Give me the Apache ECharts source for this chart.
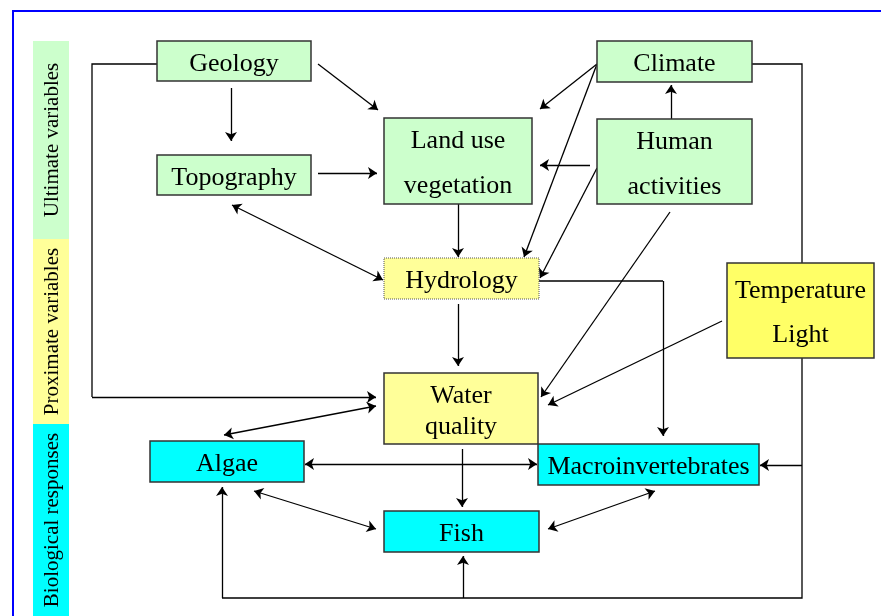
<!DOCTYPE html>
<html>
<head>
<meta charset="utf-8">
<script src="https://cdn.jsdelivr.net/npm/echarts@6/dist/echarts.min.js"></script>
<style>
  html, body { margin: 0; padding: 0; background: #fff; }
  #main { width: 881px; height: 616px; }
</style>
</head>
<body>
<div id="main"></div>
<script>
// diagram data: boxes (label, corners in diagram units, level)
const boxLabels = ['Geology', 'Topography', 'Land use\nvegetation', 'Climate', 'Human\nactivities',
  'Hydrology', 'Temperature\nLight', 'Water\nquality', 'Algae', 'Macroinvertebrates', 'Fish'];
const boxLevels = ['ultimate', 'ultimate', 'ultimate', 'ultimate', 'ultimate',
  'proximate', 'proximateStrong', 'proximate', 'biological', 'biological', 'biological'];
const boxCorners = [
  [157, 41, 311, 81], [157, 155, 311, 195], [384, 118, 532, 204], [597, 41, 752, 82],
  [597, 119, 752, 204], [384, 258, 539, 299], [727, 263, 874, 358], [384, 373, 538, 444],
  [150, 441, 304, 482], [538, 444, 759, 485], [384, 511, 539, 552]
];

// side bands
const bandLabels = ['Ultimate variables', 'Proximate variables', 'Biological responses'];
const bandLevels = ['ultimate', 'proximate', 'biological'];
const bandSpans = [[41, 239], [239, 424], [424, 616]];

// connectors
const arrowLinks = [
  [[231, 88], [231, 141]],
  [[318, 64], [378, 110]],
  [[318, 173], [377, 173]],
  [[458, 204], [458, 257]],
  [[597, 64], [540, 109]],
  [[597, 64], [524, 257]],
  [[590, 165], [540, 165]],
  [[597, 168], [540, 278]],
  [[671, 119], [671, 85]],
  [[663, 281], [663, 436]],
  [[670, 212], [541, 397]],
  [[722, 321], [548, 405]],
  [[458, 304], [458, 366]],
  [[92, 397], [376, 397]],
  [[462, 449], [462, 507]],
  [[802, 465], [760, 465]],
  [[463, 598], [463, 556]],
  [[222, 598], [222, 487]]
];
const doubleLinks = [
  [[232, 205], [383, 280]],
  [[376, 406], [224, 435]],
  [[305, 464], [537, 464]],
  [[254, 491], [376, 529]],
  [[548, 529], [655, 491]]
];
const plainPaths = [
  [[157, 64], [92, 64], [92, 397]],
  [[752, 64], [802, 64], [802, 598], [222, 598]],
  [[539, 281], [663, 281]]
];
const framePath = [[881, 11], [13, 11], [13, 616]];

// styles
const levelColors = {
  ultimate: '#CCFFCC', proximate: '#FFFF99', proximateStrong: '#FFFF66', biological: '#00FFFF'
};
const boxLineHeights = [28, 28, 45, 28, 45, 28, 44, 31, 28, 28, 28];
const serif = '"Liberation Serif", "Times New Roman", serif';

const chart = echarts.init(document.getElementById('main'));

function renderBox(params, api) {
  const i = params.dataIndex;
  const p0 = api.coord([api.value(0), api.value(1)]);
  const p1 = api.coord([api.value(2), api.value(3)]);
  const dotted = boxLabels[i] === 'Hydrology';
  return {
    type: 'group',
    children: [
      {
        type: 'rect',
        shape: { x: p0[0], y: p0[1], width: p1[0] - p0[0], height: p1[1] - p0[1] },
        style: {
          fill: levelColors[boxLevels[i]],
          stroke: dotted ? '#555' : '#333',
          lineWidth: dotted ? 1 : 1.5,
          lineDash: dotted ? [1, 1] : null
        }
      },
      {
        type: 'text',
        style: {
          text: boxLabels[i],
          x: (p0[0] + p1[0]) / 2,
          y: (p0[1] + p1[1]) / 2 + 3,
          align: 'center',
          verticalAlign: 'middle',
          fontSize: 26,
          fontFamily: serif,
          lineHeight: boxLineHeights[i],
          fill: '#000'
        }
      }
    ]
  };
}

function renderBand(params, api) {
  const i = params.dataIndex;
  const p0 = api.coord([33, api.value(0)]);
  const p1 = api.coord([69, api.value(1)]);
  return {
    type: 'group',
    children: [
      {
        type: 'rect',
        shape: { x: p0[0], y: p0[1], width: p1[0] - p0[0], height: p1[1] - p0[1] },
        style: { fill: levelColors[bandLevels[i]] }
      },
      {
        type: 'text',
        x: (p0[0] + p1[0]) / 2 + 1,
        y: (p0[1] + p1[1]) / 2,
        rotation: Math.PI / 2,
        style: {
          text: bandLabels[i],
          x: 0, y: 0,
          align: 'center',
          verticalAlign: 'middle',
          fontSize: 21,
          fontFamily: serif,
          fill: '#000'
        }
      }
    ]
  };
}

const lineStyle = { color: '#000', width: 1.3, opacity: 1, curveness: 0 };

const option = {
  animation: false,
  backgroundColor: '#fff',
  grid: { left: 0, right: 0, top: 0, bottom: 0 },
  xAxis: { type: 'value', min: 0, max: 881, show: false },
  yAxis: { type: 'value', min: 0, max: 616, inverse: true, show: false },
  series: [
    {
      type: 'custom',
      name: 'bands',
      renderItem: renderBand,
      data: bandSpans,
      z: 1,
      silent: true
    },
    {
      type: 'lines',
      name: 'frame',
      coordinateSystem: 'cartesian2d',
      polyline: true,
      symbol: 'none',
      lineStyle: { color: '#0000FF', width: 2, opacity: 1 },
      data: [{ coords: framePath }],
      z: 2
    },
    {
      type: 'lines',
      name: 'paths',
      coordinateSystem: 'cartesian2d',
      polyline: true,
      symbol: 'none',
      lineStyle: lineStyle,
      data: plainPaths.map(c => ({ coords: c })),
      z: 2
    },
    {
      type: 'lines',
      name: 'arrows',
      coordinateSystem: 'cartesian2d',
      symbol: ['none', 'arrow'],
      symbolSize: 9,
      lineStyle: lineStyle,
      data: arrowLinks.map(c => ({ coords: c })),
      z: 2
    },
    {
      type: 'lines',
      name: 'double arrows',
      coordinateSystem: 'cartesian2d',
      symbol: ['arrow', 'arrow'],
      symbolSize: 9,
      lineStyle: lineStyle,
      data: doubleLinks.map(c => ({ coords: c })),
      z: 2
    },
    {
      type: 'custom',
      name: 'boxes',
      renderItem: renderBox,
      data: boxCorners,
      z: 3,
      silent: true
    }
  ]
};

chart.setOption(option);
</script>
</body>
</html>
